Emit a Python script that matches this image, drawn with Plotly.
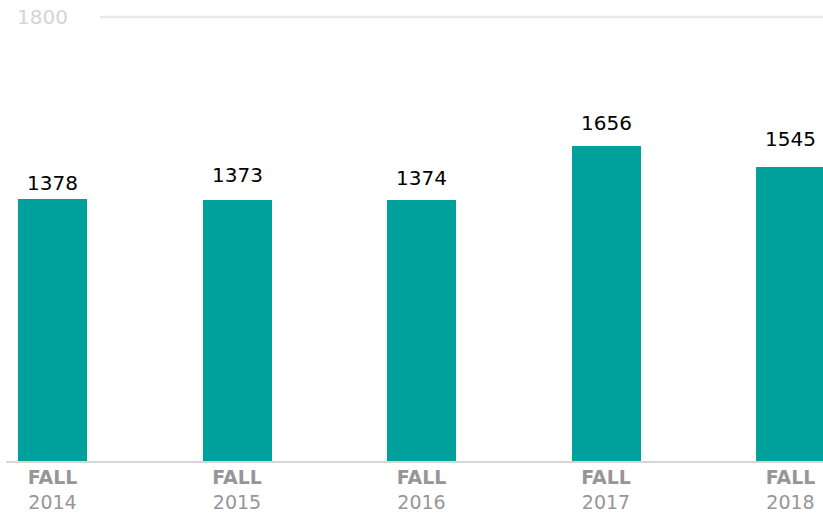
import plotly.graph_objects as go

# data
terms = ["FALL 2014", "FALL 2015", "FALL 2016", "FALL 2017", "FALL 2018"]
seasons = ["FALL", "FALL", "FALL", "FALL", "FALL"]
years = ["2014", "2015", "2016", "2017", "2018"]
enrollment = [1378, 1373, 1374, 1656, 1545]
top_label = "1800"

# label offsets above each bar (px), matched to the original layout
label_shift = [2, 11, 8, 9, 14]

BAR_COLOR = "#00a19a"
TICK_COLOR = "#96969a"

fig = go.Figure()

fig.add_trace(go.Bar(
    x=list(range(len(terms))),
    y=enrollment,
    width=0.374,
    marker=dict(color=BAR_COLOR, line=dict(width=0)),
    hovertext=terms,
    showlegend=False,
))

# value labels
for i, v in enumerate(enrollment):
    fig.add_annotation(
        x=i, y=v, text=str(v),
        showarrow=False, yanchor="bottom", xanchor="center",
        yshift=label_shift[i],
        font=dict(family="DejaVu Sans", size=20, color="#000000"),
    )

# top reference line + label
fig.add_shape(
    type="line", xref="paper", yref="paper",
    x0=0.115, x1=1, y0=1, y1=1,
    line=dict(color="#e8e8e8", width=2.5),
)
fig.add_annotation(
    xref="paper", yref="paper", x=0.011, y=1,
    text=top_label, showarrow=False,
    xanchor="left", yanchor="middle",
    font=dict(family="DejaVu Sans", size=20, color="#d4d4d4"),
)

fig.update_layout(
    width=823, height=516,
    margin=dict(l=6, r=0, t=17, b=55),
    paper_bgcolor="white",
    plot_bgcolor="white",
    bargap=0,
    xaxis=dict(
        range=[-0.252, 4.176],
        tickmode="array",
        tickvals=list(range(len(terms))),
        ticktext=[f"<b>{s}</b><br>{y}" for s, y in zip(seasons, years)],
        tickfont=dict(family="DejaVu Sans", size=19, color=TICK_COLOR),
        ticklabelstandoff=-2,
        showline=True, linecolor="#d6d6d6", linewidth=2,
        showgrid=False, zeroline=False, ticks="",
    ),
    yaxis=dict(
        range=[0, 2337],
        showgrid=False, zeroline=False,
        showticklabels=False, ticks="",
    ),
)

# drop the default page margin so the 823x516 figure fills the window
fig.write_html(
    "out.html",
    config={"displayModeBar": False},
    post_script="document.body.style.margin='0';",
)
